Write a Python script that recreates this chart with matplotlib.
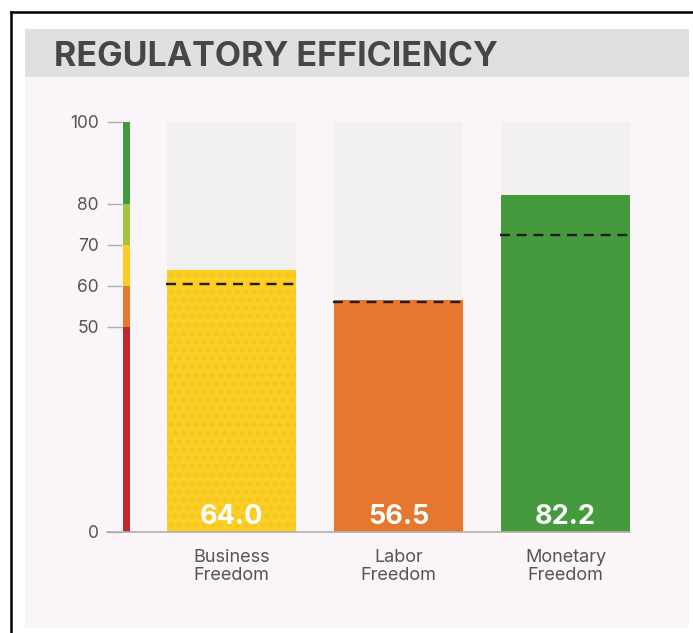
import matplotlib
matplotlib.use("Agg")
import matplotlib.pyplot as plt
from matplotlib.patches import Rectangle
from matplotlib.lines import Line2D

# ---- data ----
categories = ["Business\nFreedom", "Labor\nFreedom", "Monetary\nFreedom"]
scores = [64.0, 56.5, 82.2]
averages = [60.6, 56.0, 72.4]
bar_colors = ["#fbcf24", "#e5772f", "#449a3c"]
scale_bounds = [0, 50, 60, 70, 80, 100]
scale_colors = ["#c0282c", "#e8782f", "#fdcb1f", "#a2c43a", "#3f9b3d"]
tick_values = [0, 50, 60, 70, 80, 100]
title = "REGULATORY EFFICIENCY"

W, H = 693, 633
fig = plt.figure(figsize=(W / 100, H / 100), dpi=100)
fig.patch.set_facecolor("white")

def fx(px):
    return px / W

def fy(py):
    return (H - py) / H

# panel backgrounds
fig.patches.append(Rectangle((fx(25), fy(628)), fx(689) - fx(25), fy(29) - fy(628),
                             transform=fig.transFigure, facecolor="#f9f5f8", edgecolor="none", zorder=-10))
fig.patches.append(Rectangle((fx(25), fy(77)), fx(689) - fx(25), fy(29) - fy(77),
                             transform=fig.transFigure, facecolor="#e0e0e0", edgecolor="none", zorder=-9))
# frame lines
fig.lines.append(Line2D([fx(11), fx(693)], [fy(12), fy(12)], transform=fig.transFigure,
                        color="black", lw=1.8, zorder=-8))
fig.lines.append(Line2D([fx(11), fx(11)], [fy(12), fy(633)], transform=fig.transFigure,
                        color="black", lw=1.8, zorder=-8))

fig.text(fx(54), fy(66), title, fontsize=24.5, fontweight="bold", color="#464646",
         family="Inter", va="baseline", ha="left")

ax = fig.add_axes([fx(107), fy(532), fx(630) - fx(107), fy(122) - fy(532)])
ax.set_facecolor("none")
px_per_unit = 167.0
x0 = 231.5
ax.set_xlim((107 - x0) / px_per_unit, (630 - x0) / px_per_unit)
ax.set_ylim(0, 100)

xs = list(range(len(categories)))
bw = 129 / px_per_unit

# tracks
ax.bar(xs, [100] * len(xs), width=bw, color="#f3f0f0", zorder=1)
# value bars
bars = ax.bar(xs, scores, width=bw, color=bar_colors, zorder=2, linewidth=0)
# subtle texture on first bar
plt.rcParams["hatch.linewidth"] = 2.5
ax.bar(xs[0], scores[0], width=bw, facecolor="none", edgecolor="#f5c720",
       hatch="..", linewidth=0, zorder=2.5)

# dashed average lines
for x, a in zip(xs, averages):
    ax.plot([x - bw / 2 - 0.005, x + bw / 2 + 0.01], [a, a], color="#1e1e1e", lw=1.7,
            dashes=(4.2, 2.9), zorder=3, clip_on=False)

# value labels
for x, s in zip(xs, scores):
    ax.text(x, 2.0, f"{s:.1f}", ha="center", va="baseline", color="white",
            fontsize=19.5, fontweight="bold", family="Inter", zorder=4)

# category labels
for x, c in zip(xs, categories):
    ax.text(x, -8.4, c, ha="center", va="center", color="#555555", fontsize=13,
            family="Inter", linespacing=1.05, clip_on=False)

# color scale bar
sx0 = (122.7 - x0) / px_per_unit
sx1 = (130 - x0) / px_per_unit
for lo, hi, col in zip(scale_bounds[:-1], scale_bounds[1:], scale_colors):
    ax.bar((sx0 + sx1) / 2, hi - lo, bottom=lo, width=sx1 - sx0, color=col,
           linewidth=0, zorder=2)

# axes styling
for side in ["top", "right", "left"]:
    ax.spines[side].set_visible(False)
ax.spines["bottom"].set_color("#b0b0b0")
ax.spines["bottom"].set_linewidth(1.2)
ax.set_xticks([])
ax.set_yticks(tick_values)
ax.set_yticklabels([str(v) for v in tick_values], family="Inter", fontsize=12.5,
                   color="#555555")
ax.tick_params(axis="y", direction="in", length=11, width=1, color="#b0b0b0", pad=6)

fig.savefig("out.png", dpi=100)
